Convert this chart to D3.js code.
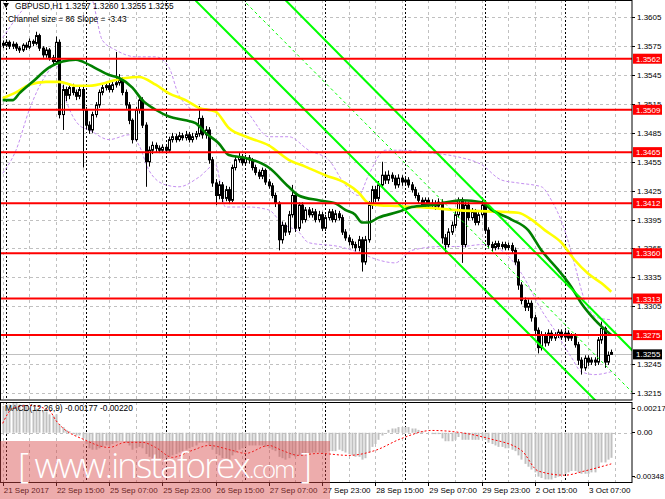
<!DOCTYPE html>
<html><head><meta charset="utf-8">
<script src="https://cdn.jsdelivr.net/npm/d3@7"></script>
<style>body{margin:0;background:#fff;}svg{display:block;}</style>
</head><body><svg id="c" width="665" height="499"></svg>
<script>
// ---------------- DATA ----------------
const timeLabels = ["21 Sep 2017","22 Sep 15:00","25 Sep 07:00","25 Sep 23:00","26 Sep 15:00","27 Sep 07:00","27 Sep 23:00","28 Sep 15:00","29 Sep 07:00","29 Sep 23:00","2 Oct 15:00","3 Oct 07:00"];
const labelStep = 16;            // bars between time labels
const daySeparators = [1,25,49,73,97,121,145,169];
const priceTicks = [1.3605,1.3575,1.3545,1.3515,1.3485,1.3455,1.3425,1.3395,1.3365,1.3335,1.3305,1.3245,1.3215];
const levels = [1.3562,1.3509,1.3465,1.3412,1.3360,1.3313,1.3275];
const lastPrice = 1.3255;
const macdTicks = [0.00217,0.00,-0.00348];

const open = [1.3578,1.3576,1.3579,1.3575,1.3577,1.3573,1.3571,1.3576,1.3574,1.3580,1.3578,1.3586,1.3573,1.3566,1.3571,1.3563,1.3559,1.3579,1.3504,1.3530,
1.3524,1.3532,1.3527,1.3523,1.3530,1.3509,1.3493,1.3488,1.3504,1.3514,1.3527,1.3532,1.3534,1.3530,1.3535,1.3537,1.3540,1.3527,1.3514,1.3498,
1.3478,1.3509,1.3519,1.3493,1.3455,1.3467,1.3472,1.3469,1.3467,1.3470,1.3467,1.3478,1.3481,1.3478,1.3482,1.3480,1.3483,1.3478,1.3481,1.3484,
1.3500,1.3483,1.3488,1.3457,1.3433,1.3420,1.3431,1.3417,1.3426,1.3415,1.3449,1.3457,1.3460,1.3454,1.3459,1.3457,1.3449,1.3444,1.3440,1.3446,
1.3434,1.3430,1.3420,1.3412,1.3374,1.3389,1.3382,1.3400,1.3420,1.3386,1.3410,1.3395,1.3405,1.3400,1.3403,1.3395,1.3400,1.3386,1.3397,1.3403,
1.3395,1.3401,1.3397,1.3382,1.3376,1.3372,1.3369,1.3366,1.3374,1.3351,1.3374,1.3410,1.3426,1.3417,1.3431,1.3441,1.3436,1.3441,1.3438,1.3431,
1.3438,1.3434,1.3436,1.3431,1.3426,1.3420,1.3415,1.3410,1.3415,1.3410,1.3412,1.3409,1.3413,1.3376,1.3369,1.3382,1.3389,1.3400,1.3415,1.3369,
1.3410,1.3397,1.3403,1.3392,1.3400,1.3410,1.3384,1.3369,1.3366,1.3370,1.3367,1.3369,1.3366,1.3368,1.3363,1.3351,1.3327,1.3311,1.3304,1.3308,
1.3293,1.3280,1.3262,1.3275,1.3267,1.3277,1.3272,1.3275,1.3278,1.3273,1.3277,1.3272,1.3274,1.3265,1.3249,1.3241,1.3251,1.3247,1.3249,1.3247,
1.3270,1.3282,1.3247,1.3257];
const close = [1.3576,1.3579,1.3575,1.3577,1.3573,1.3571,1.3576,1.3574,1.3580,1.3578,1.3586,1.3573,1.3566,1.3571,1.3563,1.3559,1.3579,1.3504,1.3530,1.3524,
1.3532,1.3527,1.3523,1.3530,1.3509,1.3493,1.3488,1.3504,1.3514,1.3527,1.3532,1.3534,1.3530,1.3535,1.3537,1.3540,1.3527,1.3514,1.3498,1.3478,
1.3509,1.3519,1.3493,1.3455,1.3467,1.3472,1.3469,1.3467,1.3470,1.3467,1.3478,1.3481,1.3478,1.3482,1.3480,1.3483,1.3478,1.3481,1.3484,1.3500,
1.3483,1.3488,1.3457,1.3433,1.3420,1.3431,1.3417,1.3426,1.3415,1.3449,1.3457,1.3460,1.3454,1.3459,1.3457,1.3449,1.3444,1.3440,1.3446,1.3434,
1.3430,1.3420,1.3412,1.3374,1.3389,1.3382,1.3400,1.3420,1.3386,1.3410,1.3395,1.3405,1.3400,1.3403,1.3395,1.3400,1.3386,1.3397,1.3403,1.3395,
1.3401,1.3397,1.3382,1.3376,1.3372,1.3369,1.3366,1.3374,1.3351,1.3374,1.3410,1.3426,1.3417,1.3431,1.3441,1.3436,1.3441,1.3438,1.3431,1.3438,
1.3434,1.3436,1.3431,1.3426,1.3420,1.3415,1.3410,1.3415,1.3410,1.3412,1.3409,1.3413,1.3376,1.3369,1.3382,1.3389,1.3400,1.3415,1.3369,1.3410,
1.3397,1.3403,1.3392,1.3400,1.3410,1.3384,1.3369,1.3366,1.3370,1.3367,1.3369,1.3366,1.3368,1.3363,1.3351,1.3327,1.3311,1.3304,1.3308,1.3293,
1.3280,1.3262,1.3275,1.3267,1.3277,1.3272,1.3275,1.3278,1.3273,1.3277,1.3272,1.3274,1.3265,1.3249,1.3241,1.3251,1.3247,1.3249,1.3247,1.3270,
1.3282,1.3247,1.3254,1.3255];
const high = [1.3581,1.3582,1.3581,1.3580,1.3579,1.3575,1.3578,1.3579,1.3583,1.3582,1.3590,1.3588,1.3575,1.3574,1.3573,1.3566,1.3585,1.3582,1.3535,1.3533,
1.3535,1.3536,1.3530,1.3533,1.3533,1.3512,1.3497,1.3507,1.3517,1.3530,1.3535,1.3537,1.3537,1.3538,1.3569,1.3546,1.3543,1.3530,1.3517,1.3500,
1.3512,1.3523,1.3522,1.3496,1.3471,1.3476,1.3475,1.3472,1.3473,1.3473,1.3481,1.3485,1.3484,1.3486,1.3485,1.3487,1.3486,1.3485,1.3487,1.3513,
1.3503,1.3492,1.3491,1.3460,1.3437,1.3435,1.3434,1.3430,1.3429,1.3452,1.3461,1.3464,1.3463,1.3462,1.3462,1.3459,1.3452,1.3447,1.3449,1.3448,
1.3437,1.3433,1.3423,1.3414,1.3393,1.3392,1.3404,1.3431,1.3423,1.3413,1.3413,1.3408,1.3408,1.3407,1.3406,1.3404,1.3403,1.3400,1.3406,1.3406,
1.3405,1.3404,1.3400,1.3385,1.3379,1.3375,1.3372,1.3378,1.3377,1.3378,1.3414,1.3430,1.3430,1.3435,1.3455,1.3445,1.3446,1.3444,1.3441,1.3442,
1.3441,1.3440,1.3439,1.3434,1.3429,1.3423,1.3418,1.3418,1.3418,1.3416,1.3415,1.3417,1.3416,1.3380,1.3386,1.3393,1.3404,1.3418,1.3418,1.3414,
1.3413,1.3407,1.3406,1.3404,1.3418,1.3413,1.3387,1.3372,1.3373,1.3373,1.3372,1.3372,1.3371,1.3371,1.3366,1.3354,1.3330,1.3314,1.3312,1.3311,
1.3296,1.3283,1.3279,1.3278,1.3281,1.3280,1.3278,1.3281,1.3281,1.3280,1.3280,1.3277,1.3277,1.3268,1.3252,1.3254,1.3254,1.3252,1.3252,1.3273,
1.3289,1.3284,1.3258,1.3260];
const low = [1.3573,1.3574,1.3572,1.3572,1.3570,1.3568,1.3569,1.3571,1.3572,1.3575,1.3576,1.3570,1.3563,1.3563,1.3560,1.3556,1.3557,1.3500,1.3488,1.3518,
1.3520,1.3524,1.3519,1.3520,1.3449,1.3489,1.3484,1.3485,1.3501,1.3511,1.3524,1.3529,1.3527,1.3527,1.3532,1.3534,1.3524,1.3510,1.3494,1.3474,
1.3476,1.3505,1.3490,1.3429,1.3450,1.3463,1.3465,1.3464,1.3464,1.3463,1.3465,1.3475,1.3475,1.3476,1.3477,1.3477,1.3475,1.3475,1.3478,1.3481,
1.3479,1.3479,1.3453,1.3429,1.3410,1.3416,1.3413,1.3414,1.3411,1.3413,1.3446,1.3454,1.3451,1.3451,1.3453,1.3446,1.3441,1.3437,1.3437,1.3431,
1.3427,1.3417,1.3408,1.3363,1.3370,1.3378,1.3379,1.3397,1.3382,1.3383,1.3391,1.3392,1.3397,1.3397,1.3392,1.3392,1.3383,1.3383,1.3394,1.3392,
1.3392,1.3394,1.3379,1.3373,1.3368,1.3365,1.3362,1.3362,1.3341,1.3348,1.3371,1.3406,1.3413,1.3414,1.3428,1.3432,1.3432,1.3434,1.3427,1.3428,
1.3430,1.3431,1.3428,1.3423,1.3417,1.3412,1.3407,1.3407,1.3407,1.3407,1.3405,1.3406,1.3370,1.3360,1.3366,1.3379,1.3386,1.3397,1.3350,1.3366,
1.3394,1.3394,1.3389,1.3389,1.3397,1.3380,1.3365,1.3362,1.3363,1.3364,1.3364,1.3363,1.3363,1.3360,1.3348,1.3322,1.3307,1.3300,1.3300,1.3289,
1.3276,1.3256,1.3259,1.3263,1.3264,1.3269,1.3269,1.3272,1.3270,1.3270,1.3269,1.3269,1.3262,1.3244,1.3234,1.3238,1.3243,1.3244,1.3243,1.3244,
1.3266,1.3241,1.3244,1.3255];

// moving averages, sampled [bar index, price]
const maFastIdx = [0,3,5,9,14,18,22,24,28,32,35,39,42,46,50,55,58,61,65,68,73,80,86,89,95,100,103,106,108,110,113,119,123,129,138,144,147,153,158,162,167,171,174,178,183];
const maFastVal = [1.3519,1.3519,1.3526,1.3538,1.3553,1.3559,1.3561,1.3559,1.3552,1.3545,1.3542,1.3532,1.3519,1.3509,1.3502,1.3498,1.3495,1.3485,1.3474,1.3462,1.3459,1.3449,1.3429,1.3420,1.3415,1.3412,1.3405,1.3400,1.3392,1.3392,1.3397,1.3403,1.3408,1.3410,1.3415,1.3413,1.3405,1.3395,1.3384,1.3363,1.3343,1.3325,1.3308,1.3291,1.3275];
const maSlowIdx = [0,4,8,13,17,22,26,31,34,37,41,46,50,55,59,64,68,74,80,86,91,97,103,107,110,113,119,129,135,150,155,159,163,168,172,176,180,183];
const maSlowVal = [1.3521,1.3527,1.3535,1.3538,1.3538,1.3534,1.3534,1.3537,1.3540,1.3542,1.3543,1.3535,1.3526,1.3519,1.3511,1.3507,1.3490,1.3480,1.3472,1.3457,1.3450,1.3441,1.3433,1.3423,1.3412,1.3410,1.3409,1.3407,1.3405,1.3403,1.3402,1.3395,1.3384,1.3371,1.3353,1.3339,1.3329,1.3320];
// envelope bands, sampled
const bandUpIdx = [0,2,4,7,10,17,23,27,30,34,40,46,50,53,58,62,72,80,86,92,98,103,107,110,115,120,129,137,144,150,155,162,165,169,172,175,179,183];
const bandUpVal = [1.3584,1.3594,1.3604,1.3618,1.3639,1.3654,1.3644,1.3623,1.3581,1.3571,1.3564,1.3564,1.3553,1.3524,1.3509,1.3509,1.3509,1.3481,1.3481,1.3467,1.3457,1.3431,1.3420,1.3441,1.3467,1.3467,1.3464,1.3460,1.3452,1.3436,1.3433,1.3429,1.3415,1.3384,1.3348,1.3311,1.3293,1.3291];
const bandLoIdx = [0,4,8,13,16,19,23,26,32,38,41,44,49,53,59,64,67,74,80,84,89,92,101,107,113,118,123,132,138,144,150,156,162,166,171,174,178,183];
const bandLoVal = [1.3443,1.3467,1.3509,1.3545,1.3556,1.3519,1.3493,1.3488,1.3478,1.3483,1.3472,1.3446,1.3431,1.3429,1.3439,1.3452,1.3408,1.3408,1.3405,1.3391,1.3382,1.3371,1.3367,1.3361,1.3353,1.3350,1.3363,1.3367,1.3367,1.3369,1.3363,1.3339,1.3301,1.3280,1.3252,1.3237,1.3234,1.3237];
// regression channel anchors [bar index, price]
const channelLower = [[58,1.36224],[180,1.32011]];
const channelUpper = [[85,1.36230],[190,1.32569]];
const channelMid = [[72,1.36240],[190,1.32132]];

// MACD main (histogram) per bar, signal sampled
const macdMain = [0.0019,0.0020,0.0020,0.0021,0.0021,0.0020,0.0020,0.0019,0.0017,0.0016,0.0017,0.0016,0.0015,0.0015,0.0013,0.0012,0.0013,
0.0006,0.0004,0.0002,0.0001,-0.0001,-0.0002,-0.0002,-0.0004,
-0.0008,-0.0011,-0.0012,-0.0012,-0.0011,-0.0010,-0.0009,-0.0009,
-0.0008,-0.0007,-0.0006,-0.0006,-0.0007,-0.0009,-0.0012,-0.0011,-0.0010,
-0.0011,-0.0015,-0.0017,-0.0018,-0.0018,-0.0018,-0.0018,-0.0018,-0.0017,
-0.0016,-0.0015,-0.0014,-0.0013,-0.0012,-0.0011,-0.0010,-0.0009,-0.0007,-0.0007,-0.0007,
-0.0009,-0.0012,-0.0015,-0.0016,-0.0018,-0.0018,-0.0019,-0.0016,-0.0014,
-0.0012,-0.0011,-0.0010,-0.0009,-0.0009,-0.0009,-0.0009,-0.0009,-0.0010,-0.0011,-0.0012,-0.0013,
-0.0017,-0.0018,-0.0019,-0.0018,-0.0016,-0.0017,-0.0016,-0.0016,-0.0015,-0.0015,-0.0014,-0.0014,-0.0014,
-0.0015,-0.0014,-0.0013,-0.0013,-0.0013,-0.0012,-0.0013,-0.0014,-0.0015,-0.0016,-0.0017,-0.0017,-0.0019,
-0.0018,-0.0014,-0.0010,-0.0008,-0.0005,-0.0002,0.0000,0.0002,0.0003,0.0003,0.0004,0.0004,
0.0004,0.0004,0.0003,0.0003,0.0002,0.0001,0.0000,0.0000,-0.0001,-0.0001,-0.0001,
-0.0004,-0.0006,-0.0006,-0.0006,-0.0005,-0.0003,-0.0005,-0.0005,-0.0005,-0.0005,-0.0005,-0.0005,-0.0004,
-0.0005,-0.0007,-0.0008,-0.0009,-0.0010,-0.0010,-0.0011,-0.0011,-0.0012,-0.0013,-0.0016,-0.0019,-0.0022,
-0.0024,-0.0026,-0.0028,-0.0031,-0.0032,-0.0033,-0.0033,-0.0033,-0.0032,-0.0031,-0.0030,-0.0029,-0.0028,
-0.0027,-0.0027,-0.0028,-0.0029,-0.0029,-0.0029,-0.0028,-0.0028,-0.0025,-0.0021,-0.0021,-0.0019,-0.00177];
const sigIdx = [0,3,8,14,16,25,32,37,42,46,51,57,62,69,73,80,84,89,95,104,112,120,129,138,146,156,161,169,175,183];
const sigVal = [0.00066,0.00172,0.00193,0.00157,0.00087,-0.00054,-0.00104,-0.00068,-0.00068,-0.00104,-0.00174,-0.00125,-0.00090,-0.00125,-0.00146,-0.00090,-0.00125,-0.00160,-0.00146,-0.0016,-0.00125,-0.0004,0.00016,0.0,-0.0004,-0.00125,-0.0027,-0.0030,-0.0027,-0.0022];

// ---------------- DRAWING ----------------
const svg = d3.select("#c");
const font = "'Liberation Sans', Arial, sans-serif";
const R = 632, mainTop = 0, mainBot = 400, mTop = 402, mBot = 482;
const x = d3.scaleLinear().domain([0, 176]).range([2.7, 588]);
const y = d3.scaleLinear().domain([1.3215, 1.3605]).range([392.9, 17.3]);
const ym = d3.scaleLinear().domain([-0.00348, 0.00217]).range([mBot, mTop]);

const defs = svg.append("defs");
defs.append("clipPath").attr("id","cm").append("rect").attr("x",0).attr("y",mainTop).attr("width",R).attr("height",mainBot-mainTop);
defs.append("clipPath").attr("id","cd").append("rect").attr("x",0).attr("y",mTop).attr("width",R).attr("height",mBot-mTop);

svg.append("rect").attr("width",665).attr("height",499).attr("fill","#fff");

const gMain = svg.append("g").attr("clip-path","url(#cm)");
const gM = svg.append("g").attr("clip-path","url(#cd)");

// grid
const nBars = close.length;
const gridIdx = d3.range(0, nBars + 8, 8);
[gMain, gM].forEach((g,k) => {
  const t = k ? mTop : mainTop, b = k ? mBot : mainBot;
  g.selectAll(null).data(gridIdx).join("line")
    .attr("x1", d => Math.round(x(d))+0.5).attr("x2", d => Math.round(x(d))+0.5)
    .attr("y1", t).attr("y2", b).attr("stroke","#c0c0c0").attr("stroke-dasharray","3,3");
  g.selectAll(null).data(daySeparators).join("line")
    .attr("x1", d => Math.round(x(d))+0.5).attr("x2", d => Math.round(x(d))+0.5)
    .attr("y1", t).attr("y2", b).attr("stroke","#000").attr("stroke-dasharray","2,2").attr("stroke-width",1);
});
gMain.selectAll(null).data(priceTicks.concat([1.3275])).join("line")
  .attr("x1",0).attr("x2",R).attr("y1",d=>Math.round(y(d))+0.5).attr("y2",d=>Math.round(y(d))+0.5)
  .attr("stroke","#c0c0c0").attr("stroke-dasharray","3,3");
gM.append("line").attr("x1",0).attr("x2",R).attr("y1",Math.round(ym(0))+0.5).attr("y2",Math.round(ym(0))+0.5)
  .attr("stroke","#c0c0c0").attr("stroke-dasharray","3,3");

// current price line
gMain.append("line").attr("x1",0).attr("x2",R).attr("y1",Math.round(y(lastPrice))+0.5).attr("y2",Math.round(y(lastPrice))+0.5)
  .attr("stroke","#c0c0c0").attr("stroke-width",1);

// bands
const lineGen = d3.line().curve(d3.curveMonotoneX);
function sampled(idx, val, sc) { return idx.map((d,i)=>[x(d), sc(val[i])]); }
gMain.append("path").attr("d", lineGen(sampled(bandUpIdx,bandUpVal,y))).attr("fill","none")
  .attr("stroke","#c48ff0").attr("stroke-width",1).attr("stroke-dasharray","3,2");
gMain.append("path").attr("d", lineGen(sampled(bandLoIdx,bandLoVal,y))).attr("fill","none")
  .attr("stroke","#c48ff0").attr("stroke-width",1).attr("stroke-dasharray","3,2");

// candles
const bars = d3.range(nBars).map(i => ({i, o:open[i], h:high[i], l:low[i], c:close[i]}));
const cg = gMain.append("g");
cg.selectAll("line").data(bars).join("line")
  .attr("x1", d=>Math.round(x(d.i))+0.5).attr("x2", d=>Math.round(x(d.i))+0.5)
  .attr("y1", d=>y(d.h)).attr("y2", d=>y(d.l)).attr("stroke","#000").attr("stroke-width",1);
cg.selectAll("rect").data(bars).join("rect")
  .attr("x", d=>Math.round(x(d.i))-0.5).attr("width", 2)
  .attr("y", d=>y(Math.max(d.o,d.c))).attr("height", d=>Math.max(1, Math.abs(y(d.o)-y(d.c))))
  .attr("fill", d=> d.c>=d.o ? "#fff" : "#000").attr("stroke","#000").attr("stroke-width",1);

// moving averages
gMain.append("path").attr("d", lineGen(sampled(maSlowIdx,maSlowVal,y))).attr("fill","none")
  .attr("stroke","#ffff00").attr("stroke-width",2.6);
gMain.append("path").attr("d", lineGen(sampled(maFastIdx,maFastVal,y))).attr("fill","none")
  .attr("stroke","#008000").attr("stroke-width",2.6);

// channel
const straight = d3.line();
function chan(a){ return straight(a.map(p=>[x(p[0]), y(p[1])])); }
gMain.append("path").attr("d", chan(channelMid)).attr("stroke","#00ff00").attr("stroke-width",1).attr("stroke-dasharray","3,3").attr("fill","none");
gMain.append("path").attr("d", chan(channelLower)).attr("stroke","#00ff00").attr("stroke-width",2).attr("fill","none");
gMain.append("path").attr("d", chan(channelUpper)).attr("stroke","#00ff00").attr("stroke-width",2).attr("fill","none");

// horizontal levels
gMain.selectAll(null).data(levels).join("line")
  .attr("x1",0).attr("x2",R).attr("y1",d=>y(d)).attr("y2",d=>y(d))
  .attr("stroke","#ff0000").attr("stroke-width",2);

// MACD
gM.selectAll(null).data(macdMain).join("line")
  .attr("x1",(d,i)=>Math.round(x(i))+0.5).attr("x2",(d,i)=>Math.round(x(i))+0.5)
  .attr("y1", ym(0)).attr("y2", d=>ym(d)).attr("stroke","#c0c0c0").attr("stroke-width",2);
gM.append("path").attr("d", lineGen(sampled(sigIdx,sigVal,ym))).attr("fill","none")
  .attr("stroke","#ff0000").attr("stroke-width",1).attr("stroke-dasharray","2,2");

// frames
svg.append("rect").attr("x",0.5).attr("y",0.5).attr("width",R-0.5).attr("height",mainBot-0.5).attr("fill","none").attr("stroke","#000");
svg.append("rect").attr("x",0.5).attr("y",mTop+0.5).attr("width",R-0.5).attr("height",mBot-mTop).attr("fill","none").attr("stroke","#000");

// price axis
const ax = svg.append("g").attr("font-family",font).attr("font-size",8);
ax.selectAll(null).data(priceTicks).join("line")
  .attr("x1",R).attr("x2",R+3).attr("y1",d=>Math.round(y(d))+0.5).attr("y2",d=>Math.round(y(d))+0.5).attr("stroke","#000");
ax.selectAll(null).data(priceTicks).join("text")
  .attr("x",R+5).attr("y",d=>y(d)+3).text(d=>d.toFixed(4)).attr("fill","#000");
const lv = ax.selectAll(null).data(levels).join("g");
lv.append("rect").attr("x",R+1).attr("y",d=>y(d)-5).attr("width",29).attr("height",10).attr("fill","#ff0000");
lv.append("text").attr("x",R+4).attr("y",d=>y(d)+3).text(d=>d.toFixed(4)).attr("fill","#fff");
ax.append("rect").attr("x",R+1).attr("y",y(lastPrice)-5).attr("width",29).attr("height",10).attr("fill","#000");
ax.append("text").attr("x",R+4).attr("y",y(lastPrice)+3).text(lastPrice.toFixed(4)).attr("fill","#fff");
// MACD axis
const macdLabelY = [ym(macdTicks[0])+8.5, ym(macdTicks[1])+2.5, ym(macdTicks[2])-3];
ax.selectAll(null).data(macdTicks).join("text")
  .attr("x",(d,i)=> i===2 ? R+2 : R+5).attr("y",(d,i)=>macdLabelY[i])
  .attr("font-size",(d,i)=> i===2 ? 7.6 : 8)
  .text(d=> d===0 ? "0.00" : d.toFixed(5)).attr("fill","#000");
ax.selectAll(null).data(macdTicks).join("line")
  .attr("x1",R).attr("x2",R+3).attr("y1",(d,i)=>Math.round(macdLabelY[i]-3)+0.5)
  .attr("y2",(d,i)=>Math.round(macdLabelY[i]-3)+0.5).attr("stroke","#000");

// time axis
const tl = timeLabels.map((t,k)=>({t, i:k*labelStep}));
ax.selectAll(null).data(tl).join("line")
  .attr("x1",d=>Math.round(x(d.i))+0.5).attr("x2",d=>Math.round(x(d.i))+0.5).attr("y1",mBot).attr("y2",mBot+4).attr("stroke","#000");
ax.selectAll(null).data(tl).join("text")
  .attr("x",d=>x(d.i)+1).attr("y",mBot+11).text(d=>d.t).attr("fill","#000");

// header texts
const hd = svg.append("g").attr("font-family",font).attr("font-size",8.3).attr("fill","#000");
hd.append("path").attr("d","M3,3 L9,3 L6,8 Z").attr("fill","#000");
hd.append("text").attr("x",15).attr("y",9).text("GBPUSD,H1  1.3257 1.3260 1.3255 1.3255");
hd.append("text").attr("x",8).attr("y",22).text("Channel size = 86 Slope = -3.43");
svg.append("text").attr("x",5).attr("y",411).attr("font-family",font).attr("font-size",8.3)
  .text("MACD(12,26,9) -0.00177 -0.00220");

// watermark
const wm = svg.append("g");
wm.append("rect").attr("x",0).attr("y",441).attr("width",330).attr("height",58).attr("fill","#d84848").attr("opacity",0.45);
const wt = wm.append("text").attr("x",18).attr("y",478).attr("fill","#fff")
  .attr("font-family","'Open Sans','DejaVu Sans',sans-serif").attr("font-weight",300).attr("font-size",35)
  .attr("textLength",294).attr("lengthAdjust","spacing");
wt.append("tspan").text("[ www.instaforex");
wt.append("tspan").attr("font-size",24).text(".com");
wt.append("tspan").text(" ]");
</script></body></html>
